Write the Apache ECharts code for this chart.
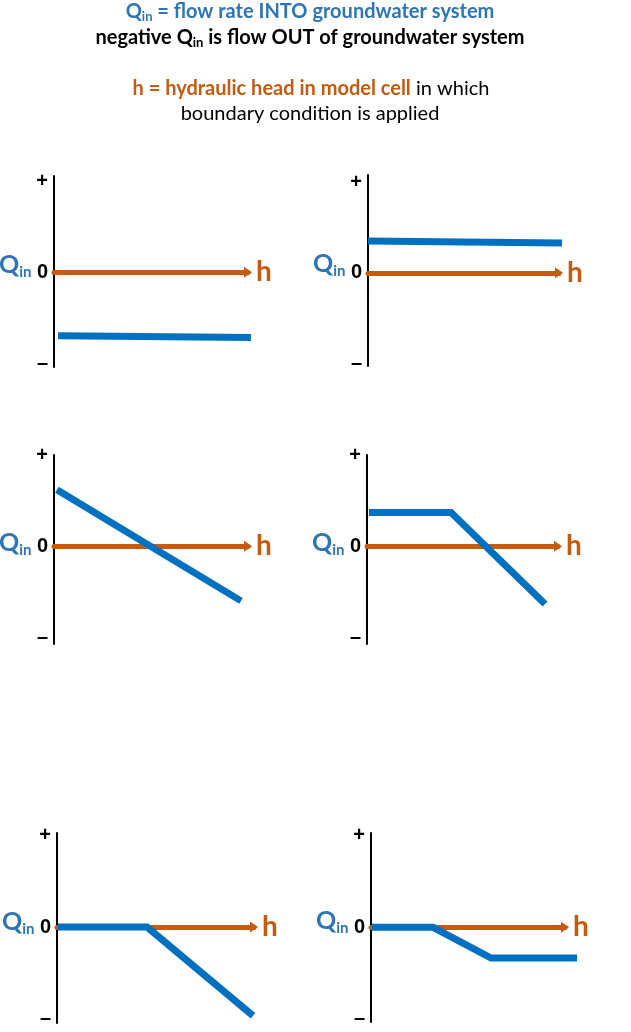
<!DOCTYPE html>
<html>
<head>
<meta charset="utf-8">
<script src="https://cdn.jsdelivr.net/npm/echarts@6/dist/echarts.min.js"></script>
<style>
html,body{margin:0;padding:0;background:#fff;}
#chart{width:631px;height:1032px;}
</style>
</head>
<body>
<div id="chart"></div>
<script>
// ---- data ----
const tickValues = [-1, 0, 1];
const tickLabels = ['–', '0', '+'];
const panel1 = [[0.21, -0.70], [10.15, -0.72]];
const panel2 = [[0, 0.35], [10.16, 0.33]];
const panel3 = [[0.15, 0.62], [9.64, -0.60]];
const panel4 = [[0.1, 0.37], [4.4, 0.37], [9.32, -0.635]];
const panel5 = [[0.05, 0], [4.57, 0], [9.95, -0.97]];
const panel6 = [[0.05, 0], [3.2, 0], [6.19, -0.336], [10.62, -0.336]];
const panels = [panel1, panel2, panel3, panel4, panel5, panel6];

const BLUE = '#0070C0', TBLUE = '#2E75B6', ORANGE = '#C55A11';
const FONT = 'Lato';

// panel frames (layout) and vertical extents of the Q axis
const frames = [
  {left: 54, top: 176, width: 194, height: 191, ymin: -1.044, ymax: 1.06},
  {left: 368, top: 175, width: 191, height: 191, ymin: -1.03, ymax: 1.08},
  {left: 54, top: 455, width: 194, height: 189, ymin: -1.073, ymax: 1.0},
  {left: 367, top: 455, width: 191, height: 189, ymin: -1.073, ymax: 1.0},
  {left: 57, top: 833, width: 197, height: 190, ymin: -1.05, ymax: 1.03},
  {left: 371, top: 833, width: 194, height: 189, ymin: -1.034, ymax: 1.03}
];
const XMAX = 10, PLOT_XMAX = 12;

const grids = [], xAxis = [], yAxis = [], series = [];
frames.forEach((f, i) => {
  // axis grid (orange arrow + black Q axis)
  grids.push({left: f.left, top: f.top, width: f.width, height: f.height, outerBoundsMode: 'none', containLabel: false});
  // plot grid: same scale, wider so lines may run past the arrow tip
  grids.push({left: f.left, top: f.top, width: f.width * PLOT_XMAX / XMAX, height: f.height, outerBoundsMode: 'none', containLabel: false});
  const ga = 2 * i, gp = 2 * i + 1;
  xAxis.push({
    gridIndex: ga, type: 'value', min: 0, max: XMAX,
    name: 'h', nameLocation: 'end', nameGap: 8,
    nameTextStyle: {color: ORANGE, fontFamily: FONT, fontWeight: 'bold', fontSize: 28, padding: [30, 0, 0, 0]},
    axisLine: {show: true, onZero: true, symbol: ['none', 'triangle'], symbolSize: [11, 8],
      lineStyle: {color: ORANGE, width: 5}},
    axisTick: {show: false}, axisLabel: {show: false}, splitLine: {show: false}
  });
  xAxis.push({
    gridIndex: gp, type: 'value', min: 0, max: PLOT_XMAX, show: false,
    axisLine: {show: false}, axisTick: {show: false}, axisLabel: {show: false}, splitLine: {show: false}
  });
  yAxis.push({
    gridIndex: ga, type: 'value', min: f.ymin, max: f.ymax,
    name: '{q|Q}{s|in}', nameLocation: 'middle', nameRotate: 0, nameGap: 21,
    nameTextStyle: {
      rich: {
        q: {color: TBLUE, fontFamily: FONT, fontWeight: 'bold', fontSize: 25, padding: [0, 0, 13, 0]},
        s: {color: TBLUE, fontFamily: FONT, fontWeight: 'bold', fontSize: 15, padding: [2, 0, 0, 0]}
      }
    },
    axisLine: {show: true, onZero: false, lineStyle: {color: '#000', width: 2}},
    axisTick: {show: false},
    splitLine: {show: false},
    axisLabel: {
      show: true, customValues: tickValues, margin: 6,
      color: '#000', fontFamily: 'Liberation Sans', fontWeight: 'bold', fontSize: 20,
      formatter: v => tickLabels[tickValues.indexOf(Math.round(v))]
    }
  });
  yAxis.push({
    gridIndex: gp, type: 'value', min: f.ymin, max: f.ymax, show: false,
    axisLine: {show: false}, axisTick: {show: false}, axisLabel: {show: false}, splitLine: {show: false}
  });
  series.push({
    type: 'line', xAxisIndex: gp, yAxisIndex: gp, data: panels[i],
    symbol: 'none', animation: false, z: 5,
    lineStyle: {color: BLUE, width: 7, join: 'miter', cap: 'butt'}
  });
});

const subRich = (color) => ({
  q: {color: color, fontFamily: FONT, fontWeight: 'bold', fontSize: 20, lineHeight: 24},
  s: {color: color, fontFamily: FONT, fontWeight: 'bold', fontSize: 13, lineHeight: 24, padding: [9, 0, 0, 0]}
});

const option = {
  backgroundColor: '#fff',
  animation: false,
  title: [
    {text: '{q|Q}{s|in}{q| = flow rate INTO groundwater system}', left: 310, textAlign: 'center', top: 0, padding: 0,
      textStyle: {rich: subRich(TBLUE)}},
    {text: '{q|negative Q}{s|in}{q| is flow OUT of groundwater system}', left: 310, textAlign: 'center', top: 26, padding: 0,
      textStyle: {rich: subRich('#000')}},
    {text: '{o|h = hydraulic head in model cell}{n| in which}', left: 311, textAlign: 'center', top: 77, padding: 0,
      textStyle: {rich: {
        o: {color: ORANGE, fontFamily: FONT, fontWeight: 'bold', fontSize: 20, lineHeight: 24},
        n: {color: '#000', fontFamily: FONT, fontWeight: 'normal', fontSize: 20, lineHeight: 24}
      }}},
    {text: 'boundary condition is applied', left: 310, textAlign: 'center', top: 102, padding: 0,
      textStyle: {color: '#000', fontFamily: FONT, fontWeight: 'normal', fontSize: 20, lineHeight: 24}}
  ],
  grid: grids,
  xAxis: xAxis,
  yAxis: yAxis,
  series: series
};

const chart = echarts.init(document.getElementById('chart'), null, {renderer: 'canvas'});
chart.setOption(option);
</script>
</body>
</html>
